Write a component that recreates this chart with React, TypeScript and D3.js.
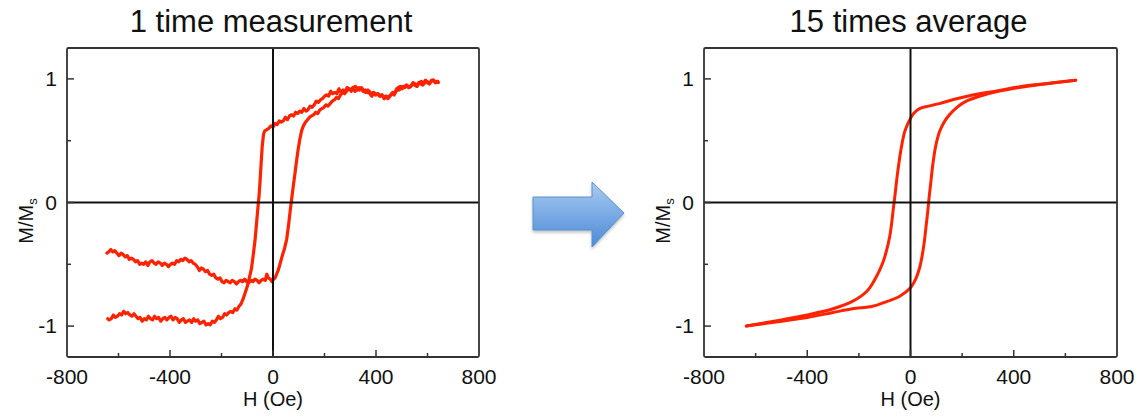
import React from 'react';
import * as d3 from 'd3';

type Pt = [number, number];

const xTicks = [-800, -400, 0, 400, 800];
const xMinor = [-600, -200, 200, 600];
const yTicks = [-1, 0, 1];
const yMinor = [-0.5, 0.5];
const titles = ['1 time measurement', '15 times average'];
const xLabel = 'H (Oe)';

// single sweep, field going down (+640 -> -640)
const singleDown: Pt[] = [
  [640, 0.98], [632, 0.97], [624, 0.99], [616, 0.99], [608, 0.96], [600, 0.97], [592, 0.99],
  [584, 0.96], [576, 0.98], [568, 0.97], [560, 0.94], [552, 0.96], [544, 0.97], [536, 0.94],
  [528, 0.93], [520, 0.95], [512, 0.93], [504, 0.94], [496, 0.92], [488, 0.91], [480, 0.92],
  [472, 0.88], [464, 0.89], [456, 0.87], [448, 0.85], [440, 0.86], [432, 0.84], [424, 0.87],
  [416, 0.86], [408, 0.88], [400, 0.87], [392, 0.89], [384, 0.86], [376, 0.88], [368, 0.91],
  [360, 0.89], [352, 0.9], [344, 0.93], [336, 0.91], [328, 0.92], [320, 0.94], [312, 0.93],
  [304, 0.9], [296, 0.92], [288, 0.93], [280, 0.9], [272, 0.91], [264, 0.89], [256, 0.92],
  [248, 0.88], [240, 0.89], [232, 0.88], [224, 0.9], [216, 0.86], [208, 0.87], [200, 0.86],
  [192, 0.84], [184, 0.83], [176, 0.81], [168, 0.82], [160, 0.79], [152, 0.77], [144, 0.78],
  [136, 0.75], [128, 0.74], [120, 0.76], [112, 0.73], [104, 0.74], [96, 0.72], [88, 0.73],
  [80, 0.7], [72, 0.71], [64, 0.7], [56, 0.67], [48, 0.69], [40, 0.66], [32, 0.65],
  [24, 0.66], [16, 0.63], [8, 0.64], [0, 0.61], [-8, 0.62], [-16, 0.6], [-24, 0.59],
  [-32, 0.58], [-37, 0.55], [-42, 0.45], [-46, 0.32], [-50, 0.18], [-54, 0.06], [-58, -0.03],
  [-64, -0.17], [-70, -0.31], [-77, -0.43], [-84, -0.54], [-92, -0.61], [-100, -0.68],
  [-108, -0.73], [-116, -0.78], [-124, -0.82], [-132, -0.84], [-140, -0.87], [-148, -0.86],
  [-156, -0.89], [-164, -0.88], [-172, -0.89], [-180, -0.91], [-188, -0.9], [-196, -0.93],
  [-204, -0.94], [-212, -0.92], [-220, -0.95], [-228, -0.97], [-236, -0.96], [-244, -0.99],
  [-252, -0.98], [-260, -0.99], [-268, -0.96], [-276, -0.97], [-284, -0.98], [-292, -0.95],
  [-300, -0.96], [-308, -0.94], [-316, -0.97], [-324, -0.95], [-332, -0.96], [-340, -0.97],
  [-348, -0.94], [-356, -0.95], [-364, -0.97], [-372, -0.94], [-380, -0.93], [-388, -0.95],
  [-396, -0.92], [-404, -0.93], [-412, -0.95], [-420, -0.93], [-428, -0.94], [-436, -0.96],
  [-444, -0.93], [-452, -0.94], [-460, -0.92], [-468, -0.95], [-476, -0.94], [-484, -0.92],
  [-492, -0.95], [-500, -0.94], [-508, -0.96], [-516, -0.93], [-524, -0.94], [-532, -0.92],
  [-540, -0.9], [-548, -0.92], [-556, -0.91], [-564, -0.89], [-572, -0.9], [-580, -0.88],
  [-588, -0.91], [-596, -0.9], [-604, -0.92], [-612, -0.93], [-620, -0.91], [-628, -0.94],
  [-636, -0.95], [-642, -0.94],
];

// single sweep, field going up (-640 -> +640)
const singleUp: Pt[] = [
  [-645, -0.41], [-638, -0.4], [-630, -0.38], [-622, -0.4], [-614, -0.39], [-606, -0.41],
  [-598, -0.43], [-590, -0.41], [-582, -0.42], [-574, -0.44], [-566, -0.43], [-558, -0.46],
  [-550, -0.45], [-542, -0.46], [-534, -0.48], [-526, -0.47], [-518, -0.5], [-510, -0.49],
  [-502, -0.5], [-494, -0.48], [-486, -0.51], [-478, -0.48], [-470, -0.47], [-462, -0.49],
  [-454, -0.5], [-446, -0.48], [-438, -0.49], [-430, -0.51], [-422, -0.49], [-414, -0.5],
  [-406, -0.52], [-398, -0.5], [-390, -0.49], [-382, -0.5], [-374, -0.47], [-366, -0.48],
  [-358, -0.46], [-350, -0.47], [-342, -0.45], [-334, -0.46], [-326, -0.48], [-318, -0.47],
  [-310, -0.49], [-302, -0.5], [-294, -0.52], [-286, -0.55], [-278, -0.53], [-270, -0.54],
  [-262, -0.56], [-254, -0.55], [-246, -0.58], [-238, -0.59], [-230, -0.58], [-222, -0.61],
  [-214, -0.62], [-206, -0.61], [-198, -0.64], [-190, -0.65], [-182, -0.63], [-174, -0.64],
  [-166, -0.65], [-158, -0.63], [-150, -0.64], [-142, -0.66], [-134, -0.64], [-126, -0.63],
  [-118, -0.64], [-110, -0.62], [-102, -0.64], [-94, -0.65], [-86, -0.63], [-78, -0.64],
  [-70, -0.62], [-62, -0.63], [-54, -0.65], [-46, -0.63], [-38, -0.62], [-30, -0.63],
  [-24, -0.58], [-18, -0.61], [-10, -0.62], [-4, -0.64], [2, -0.62], [8, -0.61], [14, -0.58],
  [20, -0.55], [27, -0.5], [36, -0.43], [45, -0.37], [53, -0.3], [60, -0.19], [66, -0.08],
  [72, 0.02], [78, 0.12], [85, 0.23], [91, 0.33], [97, 0.42], [104, 0.51], [111, 0.58],
  [118, 0.62], [126, 0.65], [134, 0.67], [142, 0.69], [150, 0.7], [158, 0.71], [166, 0.73],
  [174, 0.72], [182, 0.75], [190, 0.76], [198, 0.77], [206, 0.79], [214, 0.78], [222, 0.8],
  [230, 0.82], [238, 0.83], [246, 0.85], [254, 0.84], [262, 0.87], [270, 0.89], [278, 0.88],
  [286, 0.9], [294, 0.92], [302, 0.91], [310, 0.93], [318, 0.9], [326, 0.91], [334, 0.93],
  [342, 0.92], [350, 0.9], [358, 0.91], [366, 0.89], [374, 0.9], [382, 0.88], [390, 0.89],
  [398, 0.87], [406, 0.88], [414, 0.86], [422, 0.87], [430, 0.85], [438, 0.86], [446, 0.84],
  [454, 0.86], [462, 0.88], [470, 0.87], [478, 0.9], [486, 0.93], [494, 0.94], [502, 0.92],
  [510, 0.94], [518, 0.95], [526, 0.93], [534, 0.94], [542, 0.96], [550, 0.95], [558, 0.94],
  [566, 0.97], [574, 0.96], [582, 0.95], [590, 0.97], [598, 0.98], [606, 0.96], [614, 0.98],
  [622, 0.99], [630, 0.97], [638, 0.98], [642, 0.97],
];

// 15 sweeps averaged
const avgDown: Pt[] = [
  [640, 0.99], [540, 0.965], [435, 0.94], [340, 0.905], [241, 0.87], [170, 0.835],
  [112, 0.8], [70, 0.78], [35, 0.76], [12, 0.72], [0, 0.68], [-12, 0.63], [-23, 0.57],
  [-36, 0.44], [-50, 0.24], [-60, 0.06], [-66, -0.04], [-72, -0.15], [-80, -0.27],
  [-93, -0.39], [-106, -0.48], [-120, -0.55], [-140, -0.63], [-170, -0.72], [-225, -0.8],
  [-300, -0.86], [-400, -0.91], [-500, -0.95], [-636, -1.0],
];

const avgUp: Pt[] = [
  [-636, -1.0], [-500, -0.96], [-400, -0.93], [-300, -0.89], [-225, -0.86], [-147, -0.84],
  [-90, -0.8], [-43, -0.76], [0, -0.69], [20, -0.62], [35, -0.53], [46, -0.42], [54, -0.31],
  [61, -0.18], [67, -0.07], [72, 0.04], [78, 0.15], [86, 0.3], [97, 0.45], [112, 0.57],
  [130, 0.65], [151, 0.71], [180, 0.77], [216, 0.82], [267, 0.86], [340, 0.9], [435, 0.935],
  [540, 0.965], [640, 0.99],
];

const FONT = '"Liberation Sans", Arial, Helvetica, sans-serif';
const RED = '#ff2200';
const TOP = 48;
const BOTTOM = 357;

type PanelProps = {
  left: number;
  right: number;
  title: string;
  branches: Pt[][];
  smooth: boolean;
};

const Panel = ({ left, right, title, branches, smooth }: PanelProps) => {
  const x = d3.scaleLinear().domain([-800, 800]).range([left, right]);
  const y = d3.scaleLinear().domain([-1.25, 1.25]).range([BOTTOM, TOP]);
  const line = d3
    .line<Pt>()
    .x((d) => x(d[0]))
    .y((d) => y(d[1]))
    .curve(smooth ? d3.curveCatmullRom.alpha(0.5) : d3.curveLinear);

  return (
    <g fontFamily={FONT} fill="#111">
      <text x={x(0) - 2} y={32} fontSize={31} textAnchor="middle">
        {title}
      </text>

      {branches.map((b, i) => (
        <path
          key={i}
          d={line(b) || ''}
          fill="none"
          stroke={RED}
          strokeWidth={smooth ? 3 : 3.2}
          strokeLinejoin="round"
          strokeLinecap="round"
        />
      ))}

      {/* zero lines */}
      <line x1={x(0)} x2={x(0)} y1={TOP} y2={BOTTOM} stroke="#111" strokeWidth={2} />
      <line x1={left} x2={right} y1={y(0)} y2={y(0)} stroke="#111" strokeWidth={2} />

      {/* ticks, pointing inward */}
      {xTicks.slice(1, -1).map((t) => (
        <line key={'xt' + t} x1={x(t)} x2={x(t)} y1={BOTTOM} y2={BOTTOM - 7} stroke="#333" strokeWidth={1.5} />
      ))}
      {xMinor.map((t) => (
        <line key={'xm' + t} x1={x(t)} x2={x(t)} y1={BOTTOM} y2={BOTTOM - 4} stroke="#333" strokeWidth={1.5} />
      ))}
      {yTicks.map((t) => (
        <line key={'yt' + t} x1={left} x2={left + 7} y1={y(t)} y2={y(t)} stroke="#333" strokeWidth={1.5} />
      ))}
      {yMinor.map((t) => (
        <line key={'ym' + t} x1={left} x2={left + 4} y1={y(t)} y2={y(t)} stroke="#333" strokeWidth={1.5} />
      ))}

      <rect
        x={left}
        y={TOP}
        width={right - left}
        height={BOTTOM - TOP}
        fill="none"
        stroke="#333"
        strokeWidth={1.8}
        rx={1.5}
      />

      {xTicks.map((t) => (
        <text key={'xl' + t} x={x(t)} y={BOTTOM + 27} fontSize={21} textAnchor="middle">
          {t}
        </text>
      ))}
      {yTicks.map((t) => (
        <text key={'yl' + t} x={left - 10} y={y(t) + 7} fontSize={21} textAnchor="end">
          {t}
        </text>
      ))}

      <text x={x(0)} y={406} fontSize={20} textAnchor="middle">
        {xLabel}
      </text>
      <text transform={`translate(${left - 34},221) rotate(-90)`} fontSize={20} textAnchor="middle">
        M/M
        <tspan fontSize={13} dy={4}>
          s
        </tspan>
      </text>
    </g>
  );
};

const Arrow = () => {
  // block arrow between the two panels
  const x0 = 533;
  const xb = 592;
  const xt = 624;
  const yc = 213;
  const pts = [
    [x0, yc - 16],
    [xb, yc - 16],
    [xb, yc - 31],
    [xt, yc],
    [xb, yc + 34],
    [xb, yc + 17],
    [x0, yc + 17],
  ];
  return (
    <g>
      <defs>
        <linearGradient id="arrowFill" x1="0" y1="0" x2="0" y2="1">
          <stop offset="0%" stopColor="#aacbf0" />
          <stop offset="100%" stopColor="#4a8ad6" />
        </linearGradient>
        <filter id="arrowShadow" x="-20%" y="-20%" width="140%" height="150%">
          <feDropShadow dx="0" dy="2" stdDeviation="1.5" floodColor="#000" floodOpacity="0.25" />
        </filter>
      </defs>
      <polygon
        points={pts.map((p) => p.join(',')).join(' ')}
        fill="url(#arrowFill)"
        stroke="#5b8fcf"
        strokeWidth={1}
        filter="url(#arrowShadow)"
      />
    </g>
  );
};

export default function App() {
  return (
    <svg
      width={1141}
      height={418}
      style={{ position: 'absolute', left: 0, top: 0, background: '#fff' }}
    >
      <rect width={1141} height={418} fill="#fff" />
      <Panel left={67} right={479} title={titles[0]} branches={[singleDown, singleUp]} smooth={false} />
      <Arrow />
      <Panel left={704} right={1117} title={titles[1]} branches={[avgDown, avgUp]} smooth={true} />
    </svg>
  );
}
